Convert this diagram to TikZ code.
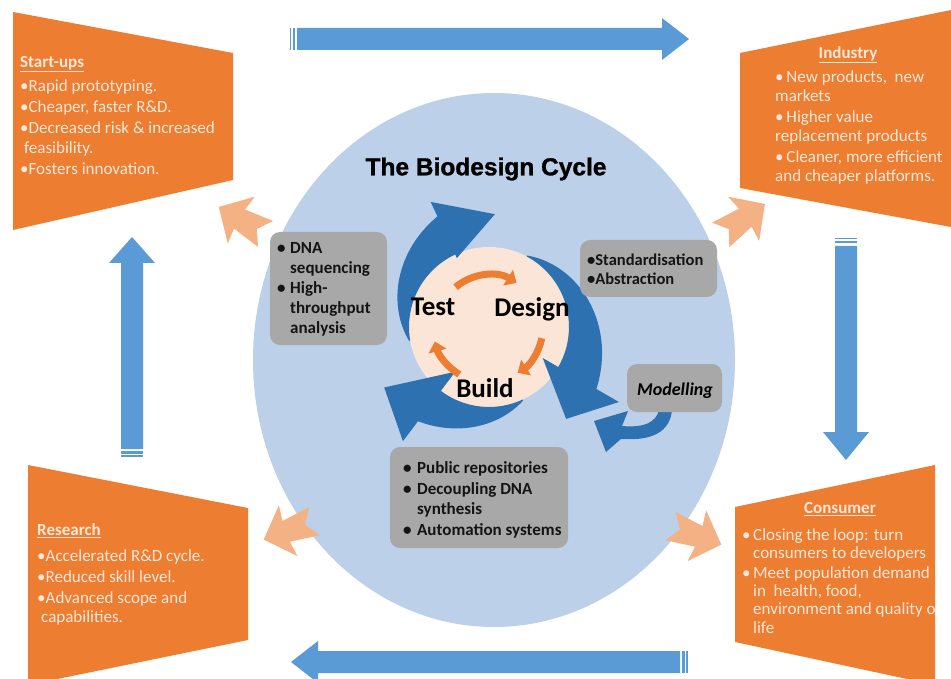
\documentclass[tikz,border=0pt]{standalone}
\usepackage{fontspec}
\setmainfont{Carlito}
\newfontfamily\titlefont{Liberation Sans}[BoldFeatures={FakeBold=1.2}]
\usetikzlibrary{arrows.meta}
\definecolor{orng}{HTML}{ED7D31}
\definecolor{cream}{HTML}{FCE7D8}
\definecolor{peach}{HTML}{F4B183}
\definecolor{ltblue}{HTML}{BDD0EA}
\definecolor{midblue}{HTML}{5B9BD5}
\definecolor{dkblue}{HTML}{2E71B0}
\definecolor{innerpeach}{HTML}{FBE5D6}
\definecolor{grybox}{HTML}{A8A8A8}
\newcommand\bul[1]{\makebox[#1][l]{•}}
\newcommand\darkarrow[9]{%
  \fill[dkblue] plot[domain=#1:#2,samples=40,variable=\t] (\t:{#4+(#5-#4)*(\t-#1)/(#2-#1)})
    -- (#2:#7) -- (#8:#9) -- (#2:#6) -- (#2:#3)
    arc[start angle=#2,end angle=#1,radius=#3] -- cycle;}
\newcommand\peacharrow[3]{%
  \fill[peach,shift={(#1,#2)},rotate=#3] (28,0) -- (2,-27) -- (4,-11) -- (-26,-15) -- (-16,0)
    -- (-26,15) -- (4,11) -- (2,27) -- cycle;}
\tikzset{
  boxtext/.style={text=cream,font=\fontsize{17}{19.5}\selectfont,align=left,inner sep=0pt,anchor=base west},
  boxtitle/.style={text=cream,font=\bfseries\fontsize{17}{19.5}\selectfont,inner sep=0pt},
  graytext/.style={text=black!92,font=\bfseries\fontsize{17}{20}\selectfont,align=left,inner sep=0pt,anchor=base west},
  graybox/.style={fill=grybox,rounded corners=10pt},
  cyclelabel/.style={font=\bfseries\fontsize{27}{30}\selectfont,text=black,inner sep=0pt},
  innerarc/.style={draw=orng,line width=7pt,-{Triangle[length=10pt,width=18pt]}},
}
\begin{document}
\begin{tikzpicture}[x=1pt,y=-1pt]
\useasboundingbox (0,0) rectangle (951,679);
\fill[white] (0,0) rectangle (951,679);

% big circle
\fill[ltblue] (494,360) ellipse[x radius=241,y radius=267];

% orange boxes
\fill[orng] (13,12) -- (233,53) -- (233,180) -- (13,230) -- cycle;
\fill[orng] (740,53) -- (951,10) -- (951,227) -- (740,188) -- cycle;
\fill[orng] (28,465) -- (248,508) -- (248,640) -- (28,685) -- cycle;
\fill[orng] (735,507) -- (935,465) -- (935,685) -- (735,642) -- cycle;

% (multi-line nodes: base anchor = baseline of the last line)
\node[boxtitle,anchor=base west] (sutitle) at (20,67.5) {\underline{Start-ups}};
\node[boxtext] (sutext) at (20,174.5) {•Rapid prototyping.\\[1.5pt]
  •Cheaper, faster R\&D.\\[1.5pt]
  •Decreased risk \& increased\\
  \hspace*{4pt}feasibility.\\[1.5pt]
  •Fosters innovation.};

\node[boxtitle,anchor=base] (intitle) at (848,58.5) {\underline{Industry}};
\node[boxtext,font=\fontsize{17}{19}\selectfont] (intext) at (775,181.5) {•\,New products,\ \ new\\
  markets\\[1.5pt]
  •\,Higher value\\
  replacement products\\[2pt]
  •\,Cleaner, more efficient\\
  and cheaper platforms.};

\node[boxtitle,anchor=base west] (retitle) at (37,535.5) {\underline{Research}};
\node[boxtext] (retext) at (37,622.5) {•Accelerated R\&D cycle.\\[1pt]
  •Reduced skill level.\\[1.5pt]
  •Advanced scope and\\
  \hspace*{4pt}capabilities.};

\node[boxtitle,anchor=base] (cotitle) at (840,513.5) {\underline{Consumer}};
\begin{scope}
  \clip (735,507) -- (935,465) -- (935,685) -- (735,642) -- cycle;
  \node[boxtext,font=\fontsize{17}{18.3}\selectfont] (cotext) at (742,633) {\bul{11pt}Closing the loop: turn\\
    \hspace*{11pt}consumers to developers\\[1.5pt]
    \bul{11pt}Meet population demand\\
    \hspace*{11pt}in\ \ health, food,\\
    \hspace*{11pt}environment and quality of\\
    \hspace*{11pt}life};
\end{scope}

% blue block arrows
\fill[midblue] (297,28) -- (662,28) -- (662,18) -- (689,39) -- (662,60) -- (662,50) -- (297,50) -- cycle;
\fill[midblue] (289.5,28) rectangle (291,50);
\fill[midblue] (292.5,28) rectangle (295,50);

\fill[midblue] (680,651) -- (318,651) -- (318,641) -- (291,662) -- (318,683) -- (318,673) -- (680,673) -- cycle;
\fill[midblue] (682,651) rectangle (684.5,673);
\fill[midblue] (686,651) rectangle (687.5,673);

\fill[midblue] (121,449) -- (121,263) -- (109,263) -- (132,237) -- (155,263) -- (143,263) -- (143,449) -- cycle;
\fill[midblue] (121,451) rectangle (143,453.5);
\fill[midblue] (121,455) rectangle (143,456.5);

\fill[midblue] (835,246) -- (835,432) -- (823,432) -- (846,460) -- (869,432) -- (857,432) -- (857,246) -- cycle;
\fill[midblue] (835,238) rectangle (857,239.5);
\fill[midblue] (835,241) rectangle (857,243.5);

% peach arrows
\peacharrow{243}{221}{150}
\peacharrow{742}{220}{35}
\peacharrow{290}{530}{200}
\peacharrow{695}{535}{-20}

% inner circle and cycle arrows
\fill[innerpeach] (489,327) circle[radius=80];
\begin{scope}[shift={(489,327)}]
  \darkarrow{170}{245}{80}{81}{122}{76}{138}{273}{113}
  \darkarrow{-62}{30}{80}{81}{124}{62}{150}{50}{120}
  \darkarrow{65}{127}{80}{81}{118}{56}{143}{150}{121}
  \draw[innerarc] (-130:52) arc[start angle=-130,end angle=-58,radius=52];
  \draw[innerarc] (12:54) arc[start angle=12,end angle=58,radius=54];
  \draw[innerarc] (122:56) arc[start angle=122,end angle=165,radius=56];
\end{scope}

\node[cyclelabel] (test) at (433,307) {Test};
\node[cyclelabel] (design) at (532,309) {Design};
\node[cyclelabel] (build) at (485,388) {Build};

\node[font=\titlefont\bfseries\fontsize{24.5}{28}\selectfont,inner sep=0pt] (title) at (486,169) {The Biodesign Cycle};

% modelling arrow
\fill[dkblue] (672,410) .. controls (670,432) and (652,441) .. (621,439) -- (606,452) -- (594,421) -- (628,411)
  -- (622,426) .. controls (645,428) and (656,422) .. (659,410) -- cycle;

% gray boxes
\fill[graybox] (270,232) rectangle (387,345);
\node[graytext] (dna) at (277,333.5) {\bul{13pt}DNA\\
  \hspace*{13pt}sequencing\\
  \bul{13pt}High-\\
  \hspace*{13pt}throughput\\
  \hspace*{13pt}analysis};

\fill[graybox] (580,240) rectangle (717,297);
\node[graytext,font=\bfseries\fontsize{16.5}{19}\selectfont] (std) at (587,284) {•Standardisation\\•Abstraction};

\fill[graybox] (627,364) rectangle (722,412);
\node[font=\bfseries\itshape\fontsize{18}{20}\selectfont,inner sep=0pt] (model) at (675,391) {Modelling};

\fill[graybox] (390,447) rectangle (568,548);
\node[graytext,font=\bfseries\fontsize{17}{20.5}\selectfont] (pub) at (403,535) {\bul{14pt}Public repositories\\
  \bul{14pt}Decoupling DNA\\
  \hspace*{14pt}synthesis\\
  \bul{14pt}Automation systems};
\end{tikzpicture}
\end{document}
